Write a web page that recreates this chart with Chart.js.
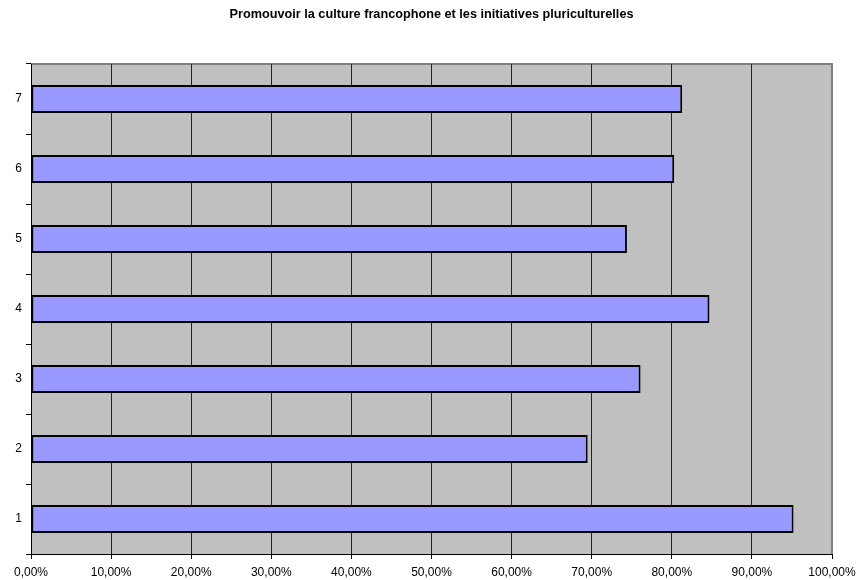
<!DOCTYPE html>
<html>
<head>
<meta charset="utf-8">
<script src="https://cdn.jsdelivr.net/npm/chart.js@4/dist/chart.umd.min.js"></script>
<style>
  body { margin: 0; background: #fff; }
  #wrap { width: 859px; height: 580px; }
</style>
</head>
<body>
<div id="wrap"><canvas id="chart" width="859" height="580"></canvas></div>
<script>
const titre = 'Promouvoir la culture francophone et les initiatives pluriculturelles';
const categories = ['1', '2', '3', '4', '5', '6', '7'];
const valeurs = [0.952, 0.695, 0.761, 0.847, 0.744, 0.803, 0.813];
const xMin = 0, xMax = 1, xPas = 0.1;

const police = "'Liberation Sans', Arial, sans-serif";

// fond gris de la zone de tracé + bordure haute
const fondGris = {
    id: 'fondGris',
    beforeDraw(chart) {
        const { ctx, chartArea: a } = chart;
        ctx.save();
        ctx.fillStyle = '#C0C0C0';
        ctx.fillRect(a.left, a.top, a.right - a.left, a.bottom - a.top);
        ctx.strokeStyle = '#808080';
        ctx.lineWidth = 2;
        ctx.beginPath();
        ctx.moveTo(a.left, a.top);
        ctx.lineTo(a.right, a.top);
        ctx.lineTo(a.right, a.bottom);
        ctx.stroke();
        ctx.restore();
    }
};

new Chart(document.getElementById('chart').getContext('2d'), {
    type: 'bar',
    data: {
        labels: categories,
        datasets: [{
            data: valeurs,
            backgroundColor: '#9999FF',
            borderColor: '#000000',
            borderWidth: 2,
            borderSkipped: false,
            categoryPercentage: 1,
            barPercentage: 0.4
        }]
    },
    options: {
        indexAxis: 'y',
        responsive: false,
        animation: false,
        layout: { padding: { left: 0, right: 27, top: 0, bottom: 0 } },
        plugins: {
            legend: { display: false },
            tooltip: { enabled: false },
            title: {
                display: true,
                fullSize: false,
                text: titre,
                color: '#000',
                font: { family: police, size: 12.7, weight: 'bold' },
                padding: { top: 7, bottom: 41.76 }
            }
        },
        scales: {
            x: {
                min: xMin,
                max: xMax,
                afterFit: s => { s.height = 26; s.paddingLeft = 0; s.paddingRight = 0; },
                ticks: {
                    stepSize: xPas,
                    color: '#000',
                    font: { family: police, size: 12 },
                    padding: 6,
                    maxRotation: 0,
                    callback: v => (v * 100).toFixed(2).replace('.', ',') + '%'
                },
                grid: {
                    color: ctx => (ctx.tick && ctx.tick.value >= xMax - 1e-9) ? '#808080' : '#222',
                    tickColor: '#000',
                    tickLength: 5,
                    lineWidth: 1
                },
                border: { color: '#000', width: 1 }
            },
            y: {
                reverse: true,
                afterFit: s => { s.width = 31; },
                ticks: {
                    color: '#000',
                    font: { family: police, size: 12 },
                    padding: 4
                },
                grid: {
                    offset: true,
                    drawOnChartArea: false,
                    tickColor: '#000',
                    tickLength: 5
                },
                border: { color: '#000', width: 1 }
            }
        }
    },
    plugins: [fondGris]
});
</script>
</body>
</html>
